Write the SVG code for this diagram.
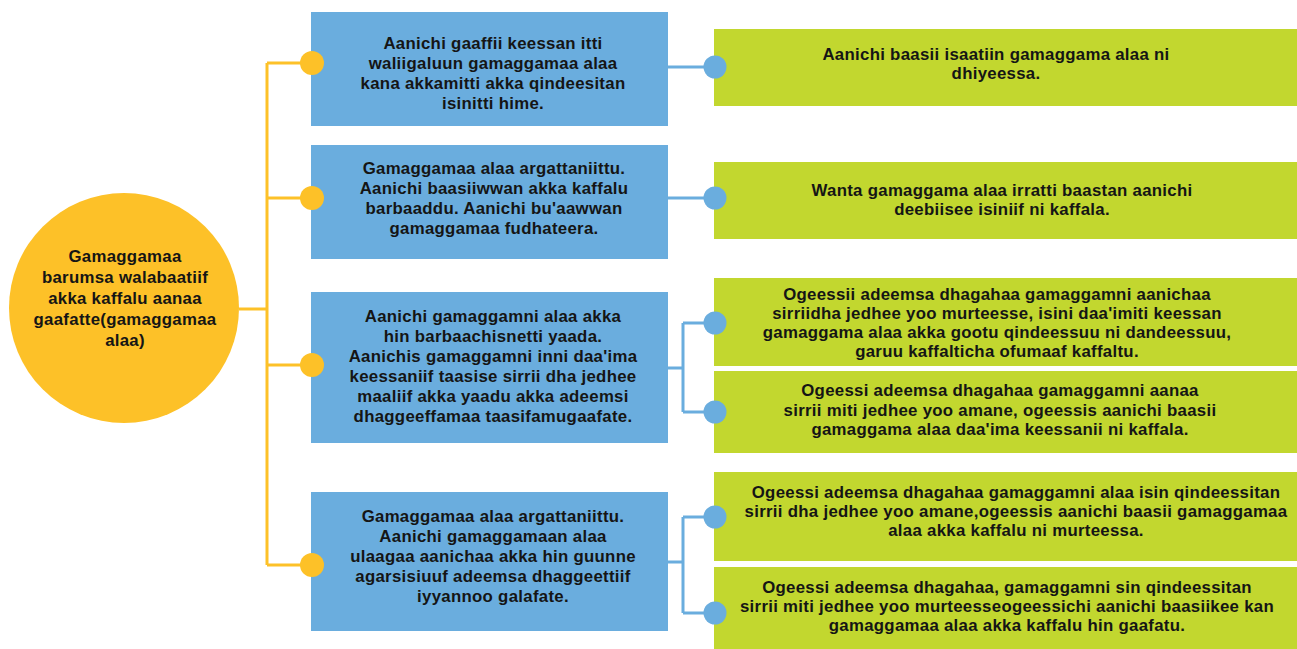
<svg xmlns="http://www.w3.org/2000/svg" width="1297" height="649" viewBox="0 0 1297 649">
<style>
  text { font-family: "Liberation Sans", Arial, sans-serif; font-size: 16.8px; font-weight: 700; letter-spacing: 0.3px; fill: #151515; text-anchor: middle; }
  .blue { fill: #6aadde; }
  .green { fill: #c2d72f; }
  .yel { fill: #fdc128; }
  .ydot { fill: #fdc128; }
  .bdot { fill: #6aadde; }
  .yline { stroke: #fdc128; stroke-width: 3; fill: none; }
  .bline { stroke: #6aadde; stroke-width: 3; fill: none; }
</style>
<rect width="1297" height="649" fill="#ffffff"/>

<g id="connectors">
  <path class="yline" d="M239 309 H267 M267 63 V565 M267 63 H312 M267 198 H312 M267 365 H312 M267 565 H312"/>
  <path class="bline" d="M668 67 H715 M668 198 H715"/>
  <path class="bline" d="M668 368 H683 M683 323 V412 M683 323 H715 M683 412 H715"/>
  <path class="bline" d="M668 562 H683 M683 517 V613 M683 517 H715 M683 613 H715"/>
</g>

<g id="root">
  <circle class="yel" cx="124" cy="308" r="115"/>
  <text x="125" y="262"><tspan x="125">Gamaggamaa</tspan><tspan x="125" dy="21">barumsa walabaatiif</tspan><tspan x="125" dy="21">akka kaffalu aanaa</tspan><tspan x="125" dy="21">gaafatte(gamaggamaa</tspan><tspan x="125" dy="21">alaa)</tspan></text>
</g>

<g id="b1">
  <rect class="blue" x="311" y="12" width="357" height="114"/>
  <circle class="ydot" cx="312" cy="63" r="12"/>
  <text x="493" y="49"><tspan x="493">Aanichi gaaffii keessan itti</tspan><tspan x="493" dy="20">waliigaluun gamaggamaa alaa</tspan><tspan x="493" dy="20">kana akkamitti akka qindeesitan</tspan><tspan x="493" dy="20">isinitti hime.</tspan></text>
</g>

<g id="b2">
  <rect class="blue" x="311" y="145" width="357" height="114"/>
  <circle class="ydot" cx="312" cy="198" r="12"/>
  <text x="494" y="174"><tspan x="494">Gamaggamaa alaa argattaniittu.</tspan><tspan x="494" dy="20">Aanichi baasiiwwan akka kaffalu</tspan><tspan x="494" dy="20">barbaaddu. Aanichi bu'aawwan</tspan><tspan x="494" dy="20">gamaggamaa fudhateera.</tspan></text>
</g>

<g id="b3">
  <rect class="blue" x="311" y="292" width="357" height="151"/>
  <circle class="ydot" cx="312" cy="365" r="12"/>
  <text x="493" y="322"><tspan x="493">Aanichi gamaggamni alaa akka</tspan><tspan x="493" dy="20">hin barbaachisnetti yaada.</tspan><tspan x="493" dy="20">Aanichis gamaggamni inni daa'ima</tspan><tspan x="493" dy="20">keessaniif taasise sirrii dha jedhee</tspan><tspan x="493" dy="20">maaliif akka yaadu akka adeemsi</tspan><tspan x="493" dy="20">dhaggeeffamaa taasifamugaafate.</tspan></text>
</g>

<g id="b4">
  <rect class="blue" x="311" y="492" width="357" height="139"/>
  <circle class="ydot" cx="312" cy="565" r="12"/>
  <text x="493" y="522"><tspan x="493">Gamaggamaa alaa argattaniittu.</tspan><tspan x="493" dy="20">Aanichi gamaggamaan alaa</tspan><tspan x="493" dy="20">ulaagaa aanichaa akka hin guunne</tspan><tspan x="493" dy="20">agarsisiuuf adeemsa dhaggeettiif</tspan><tspan x="493" dy="20">iyyannoo galafate.</tspan></text>
</g>

<g id="g1">
  <rect class="green" x="714" y="29" width="583" height="77"/>
  <circle class="bdot" cx="715" cy="67" r="11.5"/>
  <text x="996" y="60"><tspan x="996">Aanichi baasii isaatiin gamaggama alaa ni</tspan><tspan x="996" dy="19">dhiyeessa.</tspan></text>
</g>

<g id="g2">
  <rect class="green" x="714" y="162" width="583" height="77"/>
  <circle class="bdot" cx="715" cy="198" r="11.5"/>
  <text x="1002" y="196"><tspan x="1002">Wanta gamaggama alaa irratti baastan aanichi</tspan><tspan x="1002" dy="19">deebiisee isiniif ni kaffala.</tspan></text>
</g>

<g id="g3a">
  <rect class="green" x="714" y="278" width="583" height="88"/>
  <circle class="bdot" cx="715" cy="323" r="11.5"/>
  <text x="997" y="300"><tspan x="997">Ogeessii adeemsa dhagahaa gamaggamni aanichaa</tspan><tspan x="997" dy="19">sirriidha jedhee yoo murteesse, isini daa'imiti keessan</tspan><tspan x="997" dy="19">gamaggama alaa akka gootu qindeessuu ni dandeessuu,</tspan><tspan x="997" dy="19">garuu kaffalticha ofumaaf kaffaltu.</tspan></text>
</g>

<g id="g3b">
  <rect class="green" x="714" y="371" width="583" height="82"/>
  <circle class="bdot" cx="715" cy="412" r="11.5"/>
  <text x="1000" y="396"><tspan x="1000">Ogeessi adeemsa dhagahaa gamaggamni aanaa</tspan><tspan x="1000" dy="19.5">sirrii miti jedhee yoo amane, ogeessis aanichi baasii</tspan><tspan x="1000" dy="19.5">gamaggama alaa daa'ima keessanii ni kaffala.</tspan></text>
</g>

<g id="g4a">
  <rect class="green" x="714" y="472" width="583" height="89"/>
  <circle class="bdot" cx="715" cy="517" r="11.5"/>
  <text x="1016" y="498"><tspan x="1016">Ogeessi adeemsa dhagahaa gamaggamni alaa isin qindeessitan</tspan><tspan x="1016" dy="19">sirrii dha jedhee yoo amane,ogeessis aanichi baasii gamaggamaa</tspan><tspan x="1016" dy="19">alaa akka kaffalu ni murteessa.</tspan></text>
</g>

<g id="g4b">
  <rect class="green" x="714" y="567" width="583" height="82"/>
  <circle class="bdot" cx="715" cy="613" r="11.5"/>
  <text x="1007" y="593"><tspan x="1007">Ogeessi adeemsa dhagahaa, gamaggamni sin qindeessitan</tspan><tspan x="1007" dy="19">sirrii miti jedhee yoo murteesseogeessichi aanichi baasiikee kan</tspan><tspan x="1007" dy="19">gamaggamaa alaa akka kaffalu hin gaafatu.</tspan></text>
</g>
</svg>
